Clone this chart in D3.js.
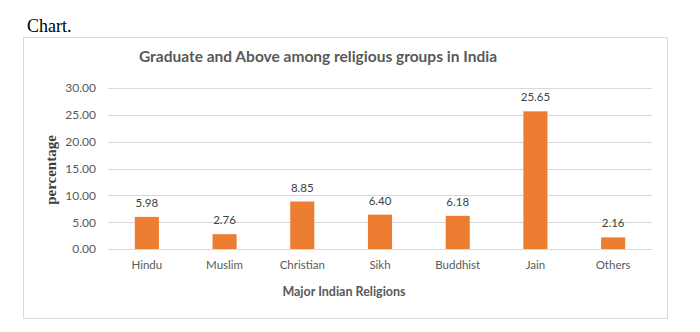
<!DOCTYPE html>
<html><head><meta charset="utf-8">
<script src="https://cdn.jsdelivr.net/npm/d3@7"></script>
<style>body{margin:0;background:#fff}</style>
</head><body>
<svg id="c" width="700" height="332"></svg>
<script>
const categories = ["Hindu","Muslim","Christian","Sikh","Buddhist","Jain","Others"];
const values = [5.98,2.76,8.85,6.40,6.18,25.65,2.16];
const yTicks = [0,5,10,15,20,25,30];
const title = "Graduate and Above among religious groups in India";
const xTitle = "Major Indian Religions";
const yTitle = "percentage";

const svg = d3.select("#c");
const sans = "Lato, 'Open Sans', sans-serif";

svg.append("text").attr("x",27).attr("y",32).attr("font-family","'Liberation Serif', 'Times New Roman', serif")
  .attr("font-size",18).attr("fill","#000").text("Chart.");

svg.append("rect").attr("x",23.5).attr("y",37.5).attr("width",644).attr("height",281)
  .attr("fill","#fff").attr("stroke","#d9d9d9").attr("stroke-width",1);

const x = d3.scaleBand().domain(categories).range([108,652]).paddingInner(0.69).paddingOuter(0.345);
const y = d3.scaleLinear().domain([0,30]).range([249,88]);

// gridlines
svg.append("g").selectAll("line").data(yTicks).join("line")
  .attr("x1",108).attr("x2",652).attr("y1",d=>Math.round(y(d))+0.5).attr("y2",d=>Math.round(y(d))+0.5)
  .attr("stroke","#d9d9d9").attr("stroke-width",1);

// y axis labels
const yAxis = d3.axisLeft(y).tickValues(yTicks).tickFormat(d3.format(".2f")).tickSize(0).tickPadding(12);
const ga = svg.append("g").attr("transform","translate(108,0)").call(yAxis);
ga.select(".domain").remove();
ga.selectAll("text").attr("font-family",sans).attr("font-size",12).attr("fill","#595959");

// x axis
const xAxis = d3.axisBottom(x).tickSize(0).tickPadding(12);
const gx = svg.append("g").attr("transform","translate(0,249)").call(xAxis);
gx.select(".domain").attr("stroke","#d9d9d9");
gx.selectAll("text").attr("font-family",sans).attr("font-size",11.5).attr("fill","#595959");

// bars
svg.append("g").selectAll("rect").data(values).join("rect")
  .attr("x",(d,i)=>x(categories[i])).attr("width",x.bandwidth())
  .attr("y",d=>y(d)).attr("height",d=>y(0)-y(d)).attr("fill","#ed7d31");

// value labels
svg.append("g").selectAll("text").data(values).join("text")
  .attr("x",(d,i)=>x(categories[i])+x.bandwidth()/2).attr("y",d=>y(d)-10)
  .attr("text-anchor","middle").attr("font-family",sans).attr("font-size",11.5).attr("fill","#404040")
  .text(d=>d3.format(".2f")(d));

// titles
svg.append("text").attr("x",318).attr("y",62).attr("text-anchor","middle").attr("font-family",sans)
  .attr("font-weight","bold").attr("font-size",15.5).attr("fill","#595959").text(title);
svg.append("text").attr("x",344).attr("y",296).attr("text-anchor","middle").attr("font-family",sans)
  .attr("font-weight","bold").attr("font-size",12.5).attr("fill","#595959").text(xTitle);
svg.append("text").attr("transform","translate(56,170) rotate(-90)").attr("text-anchor","middle")
  .attr("font-family","'Liberation Serif', serif").attr("font-weight","bold").attr("font-size",15)
  .attr("fill","#404040").text(yTitle);
</script>
</body></html>
